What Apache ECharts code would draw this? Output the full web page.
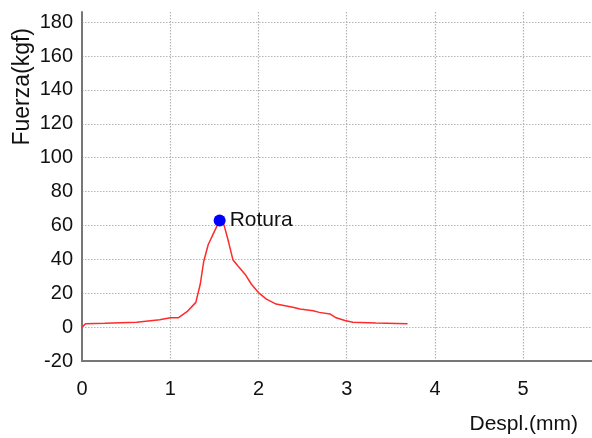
<!DOCTYPE html>
<html>
<head>
<meta charset="utf-8">
<script src="https://cdn.jsdelivr.net/npm/echarts@6/dist/echarts.min.js"></script>
<style>
  html, body { margin: 0; padding: 0; background: #fff; }
  #chart { width: 592px; height: 438px; }
</style>
</head>
<body>
<div id="chart"></div>
<script>
// Displacement (mm) and force (kgf) samples of the test curve
const despl = [0, 0.04, 0.26, 0.62, 0.88, 1.0, 1.09, 1.19, 1.29, 1.34, 1.38, 1.43, 1.49, 1.56,
  1.61, 1.66, 1.71, 1.77, 1.85, 1.92, 2.0, 2.09, 2.2, 2.39, 2.47, 2.62, 2.69, 2.81, 2.88,
  2.98, 3.07, 3.33, 3.69];
const fuerza = [0, 2, 2.3, 2.9, 4.3, 5.5, 5.5, 9.1, 14.6, 25.3, 38.9, 48.6, 55.3, 63,
  60.2, 50.5, 39.8, 35.9, 31.1, 25.3, 20.4, 16.5, 13.6, 11.7, 10.7, 9.7, 8.7, 7.8, 5.5,
  3.9, 2.9, 2.5, 2.0];

// Break point
const roturaDespl = 1.56;
const roturaFuerza = 63;
const roturaLabel = 'Rotura';

// Axis settings
const xTitle = 'Despl.(mm)';
const yTitle = 'Fuerza(kgf)';
const xRange = [0, 5.78];
const yRange = [-20, 186];

const FONT = "'Liberation Sans', Arial, sans-serif";
const TEXT = '#111111';

const curve = despl.map((d, i) => [d, fuerza[i]]);

const gridLine = {
  show: true,
  showMinLine: false,
  showMaxLine: false,
  lineStyle: { color: '#b4b4b4', width: 1.2, type: [1.5, 1.5] }
};

const chart = echarts.init(document.getElementById('chart'), null, { renderer: 'canvas' });
chart.setOption({
  animation: false,
  backgroundColor: '#ffffff',
  grid: { left: 82, right: 0, top: 12, bottom: 77, containLabel: false },
  xAxis: {
    type: 'value',
    min: xRange[0], max: xRange[1], interval: 1,
    axisLine: { show: true, onZero: false, lineStyle: { color: '#777777', width: 2 } },
    axisTick: { show: false },
    axisLabel: { fontSize: 20, color: TEXT, fontFamily: FONT, margin: 18, showMaxLabel: false },
    splitLine: gridLine
  },
  yAxis: {
    type: 'value',
    min: yRange[0], max: yRange[1], interval: 20,
    axisLine: { show: true, onZero: false, lineStyle: { color: '#777777', width: 2 } },
    axisTick: { show: false },
    axisLabel: { fontSize: 20, color: TEXT, fontFamily: FONT, margin: 9, showMaxLabel: false },
    splitLine: gridLine
  },
  graphic: [
    {
      type: 'text',
      left: 11, top: 28,
      rotation: Math.PI / 2,
      originX: 0, originY: 0,
      style: { text: yTitle, fontSize: 23, fontFamily: FONT, fill: TEXT }
    },
    {
      type: 'text',
      right: 14, top: 414,
      style: { text: xTitle, fontSize: 21, fontFamily: FONT, fill: TEXT }
    }
  ],
  series: [
    {
      type: 'line',
      data: curve,
      showSymbol: false,
      smooth: false,
      lineStyle: { color: '#ff2a2a', width: 1.5 },
      z: 2
    },
    {
      type: 'scatter',
      data: [[roturaDespl, roturaFuerza]],
      symbolSize: 12,
      itemStyle: { color: '#0000ff', opacity: 1 },
      label: {
        show: true,
        position: 'right',
        distance: 4,
        formatter: roturaLabel,
        fontSize: 21,
        fontFamily: FONT,
        color: TEXT,
        opacity: 1
      },
      z: 3
    }
  ]
});
</script>
</body>
</html>
